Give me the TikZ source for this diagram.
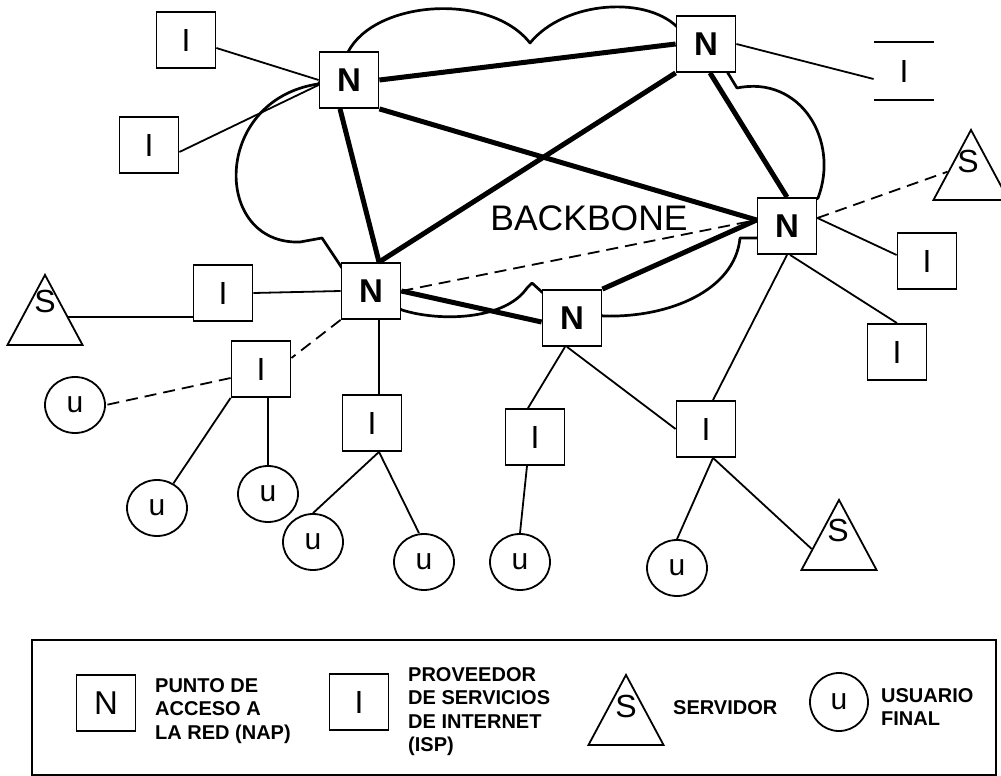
\documentclass[tikz,border=0pt]{standalone}
\usepackage{fontspec}
\setmainfont{Liberation Sans}
\usetikzlibrary{shapes.geometric,calc}
\newcommand{\fsz}[1]{\fontsize{#1}{#1}\selectfont}
\begin{document}
\begin{tikzpicture}[x=1pt,y=-1pt,
  nbox/.style={draw, fill=white, line width=1.8pt, minimum width=59pt, minimum height=56pt, inner sep=0pt, font=\fsz{33}\bfseries},
  ibox/.style={draw, fill=white, line width=1.8pt, minimum width=59pt, minimum height=56pt, inner sep=0pt, font=\fsz{32}},
  ucirc/.style={draw, fill=white, ellipse, line width=1.8pt, minimum width=60pt, minimum height=56pt, inner sep=0pt, font=\fsz{30}},
  tri/.style={draw, fill=white, isosceles triangle, isosceles triangle apex angle=56, isosceles triangle stretches, shape border rotate=90, minimum width=75pt, minimum height=70pt, inner sep=0pt, line width=1.8pt},
  slab/.style={font=\fsz{32}, inner sep=0pt},
  ltext/.style={anchor=north west, align=left, inner sep=0pt, font=\fontsize{20}{23.5}\selectfont\bfseries},
  cloudline/.style={line width=2.7pt, line join=round},
  lnk/.style={line width=1.8pt},
  bb/.style={line width=5pt},
  dsh/.style={line width=1.8pt, dash pattern=on 12pt off 7pt}]
\useasboundingbox (0,0) rectangle (1001,776);

% backbone cloud
\draw[cloudline] (348,52) .. controls (375,0) and (490,-8) .. (530,43)
  .. controls (565,0) and (650,-5) .. (680,30)
  -- (720,60) -- (737,88)
  .. controls (800,75) and (840,140) .. (818,198)
  -- (770,230) -- (757,238) -- (740,238)
  .. controls (735,290) and (670,318) .. (603,316)
  -- (560,300) -- (543,293) -- (532,283) -- (527,288)
  .. controls (505,320) and (440,322) .. (402,310)
  -- (371,291) -- (342,268) -- (322,238) -- (300,242)
  .. controls (212,245) and (212,100) .. (318,84)
  -- cycle;
\node[font=\fsz{35.5}, inner sep=0pt, anchor=base] (bbl) at (589,230) {BACKBONE};

% access points
\node[nbox] (n1) at (349,80) {N};
\node[nbox] (n2) at (706,44) {N};
\node[nbox] (n3) at (787,226) {N};
\node[nbox] (n4) at (371,291) {N};
\node[nbox] (n5) at (572,318) {N};

% providers
\node[ibox] (i1) at (186,40) {I};
\node[ibox] (i2) at (149,145) {I};
\node[ibox] (i3) at (223,293) {I};
\node[ibox] (i4) at (261,369) {I};
\node[ibox] (i5) at (372,423) {I};
\node[ibox] (i6) at (535,437) {I};
\node[ibox] (i7) at (706,429) {I};
\node[ibox, draw=none] (i8) at (904,71) {I};
\draw[lnk] (i8.north west) -- (i8.north east);
\draw[lnk] (i8.south west) -- (i8.south east);
\node[ibox] (i9) at (927,261) {I};
\node[ibox] (i10) at (897,352) {I};

% servers
\node[tri, anchor=apex] (s1) at (45,273) {};
\node[slab] (s1t) at (45,301) {S};
\node[tri, anchor=apex] (s2) at (971,128) {};
\node[slab] (s2t) at (968,161) {S};
\node[tri, anchor=apex] (s3) at (839,498) {};
\node[slab] (s3t) at (838,530) {S};

% end users
\node[ucirc] (u1) at (75,405) {u};
\node[ucirc] (u2) at (157,508) {u};
\node[ucirc] (u3) at (268,494) {u};
\node[ucirc] (u4) at (313,542) {u};
\node[ucirc] (u5) at (424,562) {u};
\node[ucirc] (u6) at (520,562) {u};
\node[ucirc] (u7) at (677,568) {u};

% points on the server sides
\coordinate (s1r) at ($(s1.apex)!0.6!(s1.right corner)$);
\coordinate (s2l) at ($(s2.apex)!0.6!(s2.left corner)$);
\coordinate (s3l) at ($(s3.apex)!0.7!(s3.left corner)$);

% backbone links
\draw[bb] (n1.east) -- (n2.west);
\draw[bb] (n1.south east) -- ([yshift=6pt]n3.west);
\draw[bb] ([xshift=-9pt]n1.south) -- ([xshift=8pt]n4.north);
\draw[bb] (n2.south west) -- ([xshift=8pt]n4.north);
\draw[bb] ([xshift=4pt]n2.south) -- (n3.north);
\draw[bb] (n4.east) -- ([yshift=-4pt]n5.west);
\draw[bb] (n5.north east) -- ([yshift=6pt]n3.west);

% access links
\draw[lnk] ([yshift=-8pt]i1.east) -- (n1.west);
\draw[lnk] ([yshift=-7pt]i2.east) -- ([yshift=-5pt]n1.west);
\draw[lnk] (s1r) -- (s1r -| i3.west);
\draw[lnk] (i3.east) -- (n4.west);
\draw[lnk] ([xshift=8pt]n4.south) -- ([xshift=8pt]n4.south |- i5.north);
\draw[lnk] (i4.south west) -- (u2);
\draw[lnk] (u3.north |- i4.south) -- (u3.north);
\draw[lnk] ([xshift=7pt]i5.south) -- (u4.north);
\draw[lnk] ([xshift=7pt]i5.south) -- ([xshift=-5pt]u5.north);
\draw[lnk] ([xshift=-7pt]n5.south) -- ([xshift=-7pt]i6.north);
\draw[lnk] ([xshift=-5pt]n5.south) -- (i7.west);
\draw[lnk] ([xshift=-8pt]i6.south) -- (u6.north);
\draw[lnk] (n3.south) -- ([xshift=7pt]i7.north);
\draw[lnk] ([xshift=7pt]i7.south) -- (u7.north);
\draw[lnk] ([xshift=7pt]i7.south) -- (s3l);
\draw[lnk] (n2.east) -- ([yshift=-8pt]i8.west);
\draw[lnk] ([yshift=8pt]n3.east) -- ([yshift=6pt]i9.west);
\draw[lnk] ([xshift=3pt]n3.south) -- (i10.north);

% dashed links
\draw[dsh] ([yshift=8pt]n3.east) -- (s2l);
\draw[dsh] (n4.east) -- ([yshift=6pt]n3.west);
\draw[dsh] (n4.south west) -- ([yshift=11pt]i4.east);
\draw[dsh] ([yshift=-9pt]i4.west) -- (u1.east);

% legend
\draw[line width=1.8pt] (32,640) rectangle (996,775);
\node[ibox, font=\fsz{33}] (ln) at (106,703) {N};
\node[ltext] (lnt) at (155,678) {PUNTO DE\\ACCESO A\\LA RED (NAP)};
\node[ibox] (li) at (359,702) {I};
\node[ltext] (lit) at (408,667) {PROVEEDOR\\DE SERVICIOS\\DE INTERNET\\(ISP)};
\node[tri, anchor=apex] (ls) at (626,673) {};
\node[slab] (lst) at (626,706) {S};
\node[ltext] (lsv) at (673,700) {SERVIDOR};
\node[ucirc, minimum width=58pt, minimum height=58pt] (lu) at (839,702) {u};
\node[ltext] (lut) at (881,688) {USUARIO\\FINAL};
\end{tikzpicture}
\end{document}
